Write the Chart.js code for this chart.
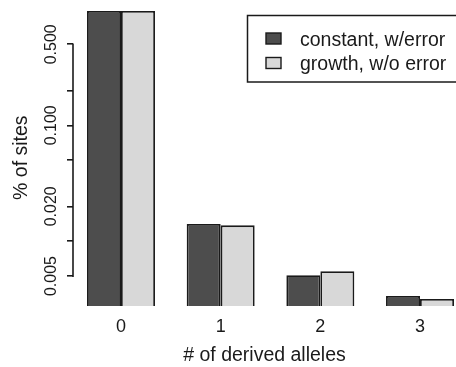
<!DOCTYPE html>
<html><head><meta charset="utf-8">
<script src="https://cdn.jsdelivr.net/npm/chart.js@4"></script>
<style>html,body{margin:0;padding:0;background:#fff;overflow:hidden}#wrap{width:456px;height:367px;position:relative}</style>
</head><body><div id="wrap"><canvas id="c" width="456" height="367"></canvas></div>
<script>
const categories = ['0', '1', '2', '3'];
const seriesNames = ['constant, w/error', 'growth, w/o error'];
const constantWithError = [0.97, 0.0141, 0.00508, 0.00337];
const growthWithoutError = [0.97, 0.0137, 0.0055, 0.00317];
const yTickValues = [0.005, 0.01, 0.02, 0.05, 0.1, 0.2, 0.5];
const yTickLabels = ['0.005', '0.020', '0.100', '0.500'];

const FAM = "'Liberation Sans', Arial, Helvetica, sans-serif";
const INK = '#1a1a1a';
Chart.defaults.font.family = FAM;

function yLabel(v) {
  const hit = yTickLabels.find(s => Math.abs(parseFloat(s) - v) < 1e-12);
  return hit || '';
}

const axisLinePlugin = {
  id: 'axisLine',
  afterDraw(chart) {
    const ys = chart.scales.y, ctx = chart.ctx;
    const x = chart.chartArea.left;
    ctx.save();
    ctx.strokeStyle = INK; ctx.lineWidth = 1.6;
    ctx.beginPath();
    ctx.moveTo(x, ys.getPixelForValue(yTickValues[0]) + 0.8);
    ctx.lineTo(x, ys.getPixelForValue(yTickValues[yTickValues.length - 1]) - 0.8);
    ctx.stroke();
    ctx.restore();
  }
};

const boxLegendPlugin = {
  id: 'boxLegend',
  afterDraw(chart) {
    const ctx = chart.ctx;
    ctx.save();
    ctx.fillStyle = '#fff';
    ctx.fillRect(247.5, 15.5, 240, 66.5);
    ctx.strokeStyle = INK; ctx.lineWidth = 1.5;
    ctx.strokeRect(247.5, 15.5, 240, 66.5);
    chart.data.datasets.forEach((ds, i) => {
      const sy = 33 + i * 24.5;
      ctx.fillStyle = ds.backgroundColor;
      ctx.fillRect(266, sy, 15, 11);
      ctx.strokeStyle = INK; ctx.lineWidth = 1.4;
      ctx.strokeRect(266, sy, 15, 11);
      ctx.fillStyle = INK;
      ctx.font = '19.5px ' + FAM;
      ctx.textBaseline = 'alphabetic';
      ctx.textAlign = 'left';
      ctx.fillText(ds.label, 300, 46 + i * 23.5);
    });
    ctx.restore();
  }
};

new Chart(document.getElementById('c'), {
  type: 'bar',
  data: {
    datasets: [
      { label: seriesNames[0], data: constantWithError.map((y, i) => ({ x: i, y })),
        backgroundColor: '#4d4d4d', borderColor: INK, borderWidth: 1.8 },
      { label: seriesNames[1], data: growthWithoutError.map((y, i) => ({ x: i, y })),
        backgroundColor: '#d8d8d8', borderColor: INK, borderWidth: 1.8 }
    ]
  },
  options: {
    responsive: false,
    animation: false,
    devicePixelRatio: 1,
    layout: { padding: { top: 9.4, left: 0, right: 0, bottom: 0 } },
    datasets: { bar: { categoryPercentage: 0.682, barPercentage: 1 } },
    plugins: { legend: { display: false }, tooltip: { enabled: false } },
    scales: {
      x: {
        type: 'linear', min: -0.4816, max: 3.361, offset: false,
        afterBuildTicks: s => { s.ticks = categories.map((c, i) => ({ value: i })); },
        ticks: { callback: v => categories[v] ?? '', font: { size: 18 }, color: INK, padding: 10, autoSkip: false, maxRotation: 0 },
        grid: { display: false, drawTicks: false },
        border: { display: false },
        title: { display: true, text: '# of derived alleles', font: { size: 19.5, lineHeight: 1 }, color: INK, padding: { top: 0, bottom: 1.5 } },
        afterFit: s => { s.height = 61; }
      },
      y: {
        type: 'logarithmic', min: 0.00276, max: 1.0,
        afterBuildTicks: s => { s.ticks = yTickValues.map(v => ({ value: v })); },
        ticks: { callback: v => yLabel(v), autoSkip: false, minRotation: 90, maxRotation: 90, crossAlign: 'center', padding: -4.5, font: { size: 16 }, color: INK },
        grid: { display: true, drawOnChartArea: false, drawTicks: true, tickLength: 6, color: INK, lineWidth: 1.6 },
        border: { display: false },
        title: { display: true, text: '% of sites', font: { size: 19.5, lineHeight: 1 }, color: INK, padding: { top: 12, bottom: 0 } },
        afterFit: s => { s.width = 73; }
      }
    }
  },
  plugins: [axisLinePlugin, boxLegendPlugin]
});
</script>
</body></html>
